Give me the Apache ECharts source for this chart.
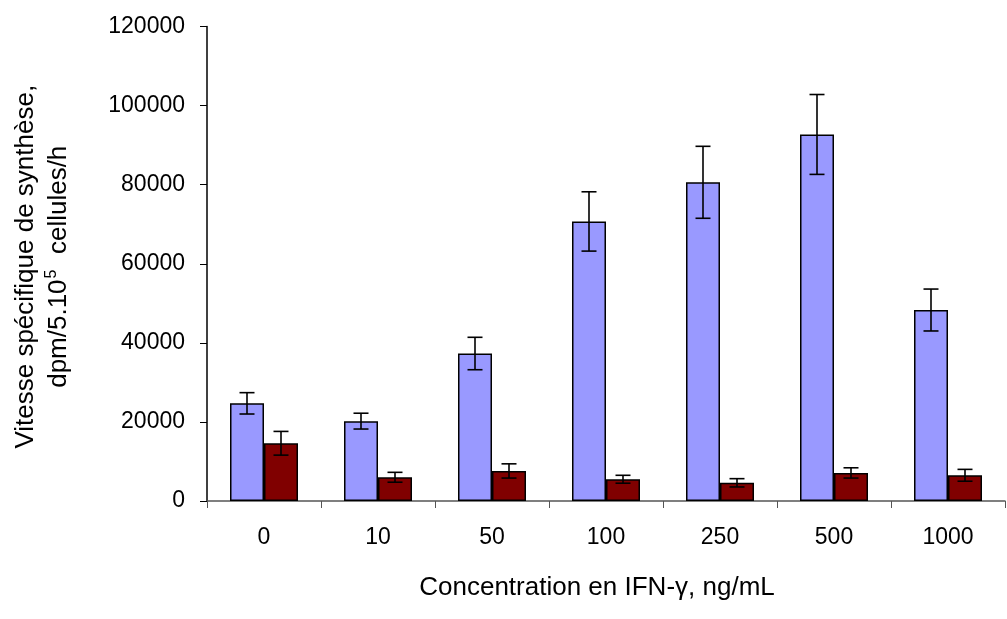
<!DOCTYPE html>
<html>
<head>
<meta charset="utf-8">
<script src="https://cdn.jsdelivr.net/npm/echarts@6/dist/echarts.min.js"></script>
<style>
    html, body { margin: 0; padding: 0; background: #fff; }
    #chart { width: 1007px; height: 619px; }
</style>
</head>
<body>
<div id="chart"></div>
<script>
// données
const categories = ['0', '10', '50', '100', '250', '500', '1000'];
const blueValues = [24700, 20200, 37300, 70700, 80600, 92700, 48300];
const blueErrors = [2700, 2000, 4100, 7500, 9100, 10100, 5300];
const redValues = [14600, 6000, 7600, 5500, 4600, 7100, 6500];
const redErrors = [3000, 1250, 1800, 1000, 1050, 1300, 1500];
const yTicks = [0, 20000, 40000, 60000, 80000, 100000, 120000];

const BAR_W = 34;
const FONT = 'Liberation Sans, Arial, sans-serif';

// barre d'erreur centrée sur la barre (offset = décalage depuis le centre de la catégorie)
function errorSeries(values, errors, offset) {
    return {
        type: 'custom',
        z: 5,
        data: values.map((v, i) => [i, v, errors[i]]),
        renderItem: function (params, api) {
            const i = api.value(0);
            const v = api.value(1);
            const e = api.value(2);
            const top = api.coord([i, v + e]);
            const bot = api.coord([i, v - e]);
            const x = top[0] + offset;
            const cap = 7.5;
            const style = { stroke: '#000', lineWidth: 1.6 };
            return {
                type: 'group',
                children: [
                    { type: 'line', shape: { x1: x, y1: top[1], x2: x, y2: bot[1] }, style },
                    { type: 'line', shape: { x1: x - cap, y1: top[1], x2: x + cap, y2: top[1] }, style },
                    { type: 'line', shape: { x1: x - cap, y1: bot[1], x2: x + cap, y2: bot[1] }, style }
                ]
            };
        }
    };
}

const chart = echarts.init(document.getElementById('chart'));
chart.setOption({
    animation: false,
    backgroundColor: '#fff',
    textStyle: { fontFamily: FONT },
    grid: { left: 207, right: 2, top: 26.5, bottom: 118 },
    xAxis: {
        type: 'category',
        data: categories,
        boundaryGap: true,
        axisLine: { lineStyle: { color: '#555', width: 1.5 } },
        axisTick: { show: true, length: 7, inside: false, lineStyle: { color: '#555' } },
        axisLabel: { color: '#000', fontSize: 23, margin: 25, fontFamily: FONT },
        name: 'Concentration en IFN-γ, ng/mL',
        nameLocation: 'middle',
        nameGap: 74,
        nameTextStyle: { color: '#000', fontSize: 26, fontFamily: FONT, padding: [0, 18, 0, 0] }
    },
    yAxis: {
        type: 'value',
        min: 0,
        max: 120000,
        interval: 20000,
        splitLine: { show: false },
        axisLine: { show: true, lineStyle: { color: '#000', width: 1.5 } },
        axisTick: { show: true, length: 7, lineStyle: { color: '#000' } },
        axisLabel: {
            color: '#000', fontSize: 23, margin: 22, fontFamily: FONT,
            formatter: v => yTicks.includes(v) ? String(v) : ''
        },
        name: 'Vitesse spécifique de synthèse,\n{t|dpm/5.10}{sup|5}{t|  cellules/h}',
        nameLocation: 'middle',
        nameGap: 132,
        nameTextStyle: {
            color: '#000',
            fontSize: 26,
            lineHeight: 33,
            fontFamily: FONT,
            padding: [0, 6, 0, 0],
            rich: {
                t: { fontSize: 26, lineHeight: 33, fontFamily: FONT, color: '#000' },
                sup: { fontSize: 16, lineHeight: 33, fontFamily: FONT, color: '#000', padding: [0, 1, 14, 1] }
            }
        }
    },
    series: [
        {
            type: 'bar',
            data: blueValues,
            barWidth: BAR_W,
            barGap: '0%',
            itemStyle: { color: '#9999FF', borderColor: '#000', borderWidth: 1.5 }
        },
        {
            type: 'bar',
            data: redValues,
            barWidth: BAR_W,
            barGap: '0%',
            itemStyle: { color: '#800000', borderColor: '#000', borderWidth: 1.5 }
        },
        errorSeries(blueValues, blueErrors, -BAR_W / 2),
        errorSeries(redValues, redErrors, BAR_W / 2)
    ]
});
</script>
</body>
</html>
